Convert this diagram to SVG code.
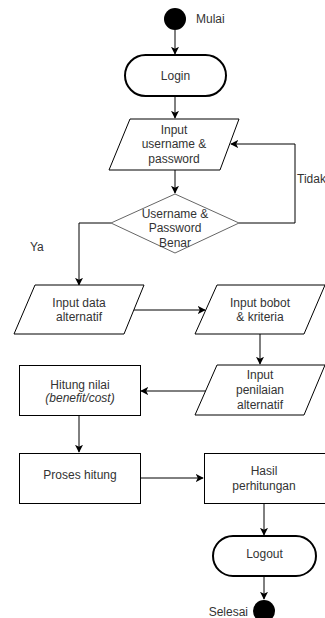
<svg xmlns="http://www.w3.org/2000/svg" width="325" height="618" viewBox="0 0 325 618">
<style>
text{font-family:"Liberation Sans",Arial,sans-serif;font-size:12px;fill:#333;text-anchor:middle}
.s{fill:#fff;stroke:#000;stroke-width:1}
.t{fill:#fff;stroke:#000;stroke-width:2}
.d{fill:#fff;stroke:#666;stroke-width:1}
.c{fill:none;stroke:#000;stroke-width:1}
.l{text-anchor:start}
.e{text-anchor:end}
</style>
<defs>
<marker id="a" viewBox="0 0 10 10" refX="9" refY="5" markerWidth="8" markerHeight="8" markerUnits="userSpaceOnUse" orient="auto">
<path d="M0,0 L10,5 L0,10 L2.5,5 Z" fill="#000"/>
</marker>
</defs>
<g id="connectors">
<path class="c" d="M175,30 V54" marker-end="url(#a)"/>
<path class="c" d="M175,96 V118" marker-end="url(#a)"/>
<path class="c" d="M175,170 V193" marker-end="url(#a)"/>
<path class="c" d="M239,223 H295 V144 H231" marker-end="url(#a)"/>
<path class="c" d="M111,223 H79 V285" marker-end="url(#a)"/>
<path class="c" d="M134,310 H205" marker-end="url(#a)"/>
<path class="c" d="M260,334 V364" marker-end="url(#a)"/>
<path class="c" d="M206,391 H141" marker-end="url(#a)"/>
<path class="c" d="M79,415 V452" marker-end="url(#a)"/>
<path class="c" d="M140,478 H203" marker-end="url(#a)"/>
<path class="c" d="M264,503 V535" marker-end="url(#a)"/>
<path class="c" d="M264,576 V599" marker-end="url(#a)"/>
<text class="l" x="297" y="183" font-size="11.5">Tidak</text>
<text class="l" x="30" y="251">Ya</text>
</g>
<g id="start">
<circle cx="175" cy="19" r="11" fill="#000"/>
<text class="l" x="196" y="23">Mulai</text>
</g>
<g id="login">
<rect class="t" x="125" y="55" width="101" height="41" rx="20.5"/>
<text x="175.5" y="80">Login</text>
</g>
<g id="input-user">
<polygon class="s" points="130,119 239,119 220,170 109,170"/>
<text x="174" y="134">Input</text>
<text x="174" y="148">username &amp;</text>
<text x="174" y="163">password</text>
</g>
<g id="check">
<polygon class="d" points="175,194 239,223 175,253 111,223"/>
<text x="175" y="218">Username &amp;</text>
<text x="175" y="232">Password</text>
<text x="175" y="247">Benar</text>
</g>
<g id="input-data">
<polygon class="s" points="35,285 144,285 124,334 14,334"/>
<text x="79" y="307">Input data</text>
<text x="79" y="321">alternatif</text>
</g>
<g id="input-bobot">
<polygon class="s" points="217,285 325,285 304,334 195,334"/>
<text x="260" y="307">Input bobot</text>
<text x="260" y="321">&amp; kriteria</text>
</g>
<g id="input-penilaian">
<polygon class="s" points="217,365 325,365 304,415 195,415"/>
<text x="260" y="379">Input</text>
<text x="260" y="394">penilaian</text>
<text x="260" y="409">alternatif</text>
</g>
<g id="hitung-nilai">
<rect class="s" x="19.5" y="365.5" width="121" height="50"/>
<text x="80" y="389">Hitung nilai</text>
<text x="80" y="402" font-style="italic">(benefit/cost)</text>
</g>
<g id="proses-hitung">
<rect class="s" x="19.5" y="453.5" width="121" height="50"/>
<text x="80" y="479">Proses hitung</text>
</g>
<g id="hasil">
<rect class="s" x="204.5" y="453.5" width="121" height="50"/>
<text x="264" y="475">Hasil</text>
<text x="264" y="490">perhitungan</text>
</g>
<g id="logout">
<rect class="t" x="213" y="536" width="103" height="40" rx="20"/>
<text x="264.5" y="558">Logout</text>
</g>
<g id="end">
<circle cx="264" cy="611" r="11" fill="#000"/>
<text class="e" x="248" y="616">Selesai</text>
</g>
</svg>
